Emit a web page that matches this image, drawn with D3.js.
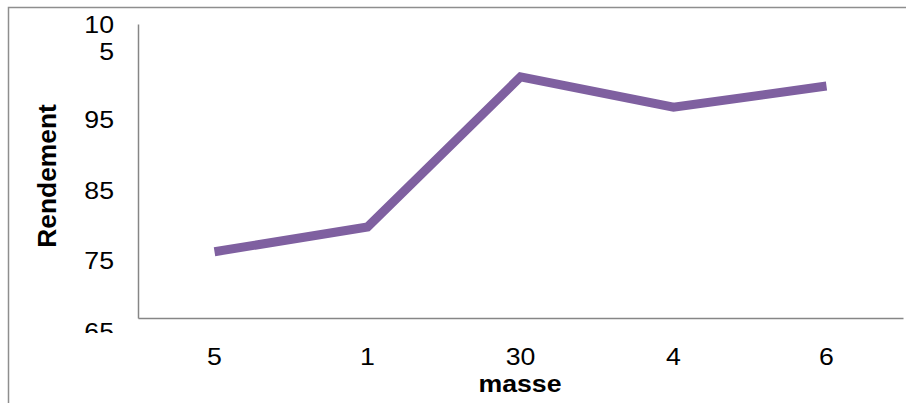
<!DOCTYPE html>
<html><head><meta charset="utf-8">
<script src="https://cdn.jsdelivr.net/npm/d3@7"></script>
<style>body{margin:0;background:#fff;}svg{display:block;font-family:"Liberation Sans",Arial,sans-serif;}</style>
</head><body>
<svg id="c" width="906" height="403"></svg>
<script>
const categories = ["5", "1", "30", "4", "6"];
const rendement = [76.3, 79.8, 101.1, 96.8, 99.8];
const yTicks = [65, 75, 85, 95, 105];
const xTitle = "masse";
const yTitle = "Rendement";

const svg = d3.select("#c");
const plot = {left: 138, right: 903, top: 24, bottom: 318};

// outer frame
svg.append("rect").attr("x", 8.5).attr("y", 7.5).attr("width", 1000).attr("height", 1000)
  .attr("fill", "none").attr("stroke", "#8e8e8e").attr("stroke-width", 1.5);

const x = d3.scaleBand().domain(categories).range([plot.left, plot.right]);
const y = d3.scaleLinear().domain([66.9, 108.6]).range([plot.bottom, plot.top]);

svg.append("clipPath").attr("id", "lblclip").append("rect")
  .attr("x", 0).attr("y", 0).attr("width", plot.left).attr("height", 333);

// y axis
const ya = svg.append("g").attr("transform", `translate(${plot.left},0)`)
  .call(d3.axisLeft(y).tickValues(yTicks).tickSize(0).tickPadding(0).tickFormat(""));
ya.select(".domain").attr("stroke", "#868686").attr("stroke-width", 1.5);
const lg = svg.append("g").attr("clip-path", "url(#lblclip)");
yTicks.forEach(v => {
  const s = String(v);
  const t = lg.append("text").attr("text-anchor", "end").attr("font-size", 23)
    .attr("fill", "#000")
    .attr("transform", `translate(114,${y(v)}) scale(1.16,1)`);
  if (s.length > 2) {
    t.append("tspan").attr("x", 0).attr("dy", "-0.7em").text(s.slice(0, 2));
    t.append("tspan").attr("x", 0).attr("dy", "1.14em").text(s.slice(2));
  } else {
    t.attr("dy", "0.36em").text(s);
  }
});

// x axis
const xa = svg.append("g").attr("transform", `translate(0,${plot.bottom})`)
  .call(d3.axisBottom(x).tickSize(0).tickFormat(""));
xa.select(".domain").attr("stroke", "#868686").attr("stroke-width", 1.5);
categories.forEach(c => {
  svg.append("text").attr("text-anchor", "middle").attr("font-size", 23).attr("fill", "#000")
    .attr("transform", `translate(${x(c) + x.bandwidth() / 2},365) scale(1.16,1)`).text(c);
});

// line
const line = d3.line().x((d, i) => x(categories[i]) + x.bandwidth() / 2).y(d => y(d));
svg.append("path").datum(rendement).attr("d", line).attr("fill", "none")
  .attr("stroke", "#7F60A0").attr("stroke-width", 9).attr("stroke-linejoin", "miter");

// titles
svg.append("text").attr("text-anchor", "middle").attr("font-weight", "bold").attr("font-size", 23)
  .attr("transform", `translate(520,392) scale(1.16,1)`).text(xTitle);
svg.append("text").attr("text-anchor", "middle").attr("font-weight", "bold").attr("font-size", 24)
  .attr("transform", `translate(56,176) rotate(-90) scale(1.1,1.05)`).text(yTitle);
</script>
</body></html>
